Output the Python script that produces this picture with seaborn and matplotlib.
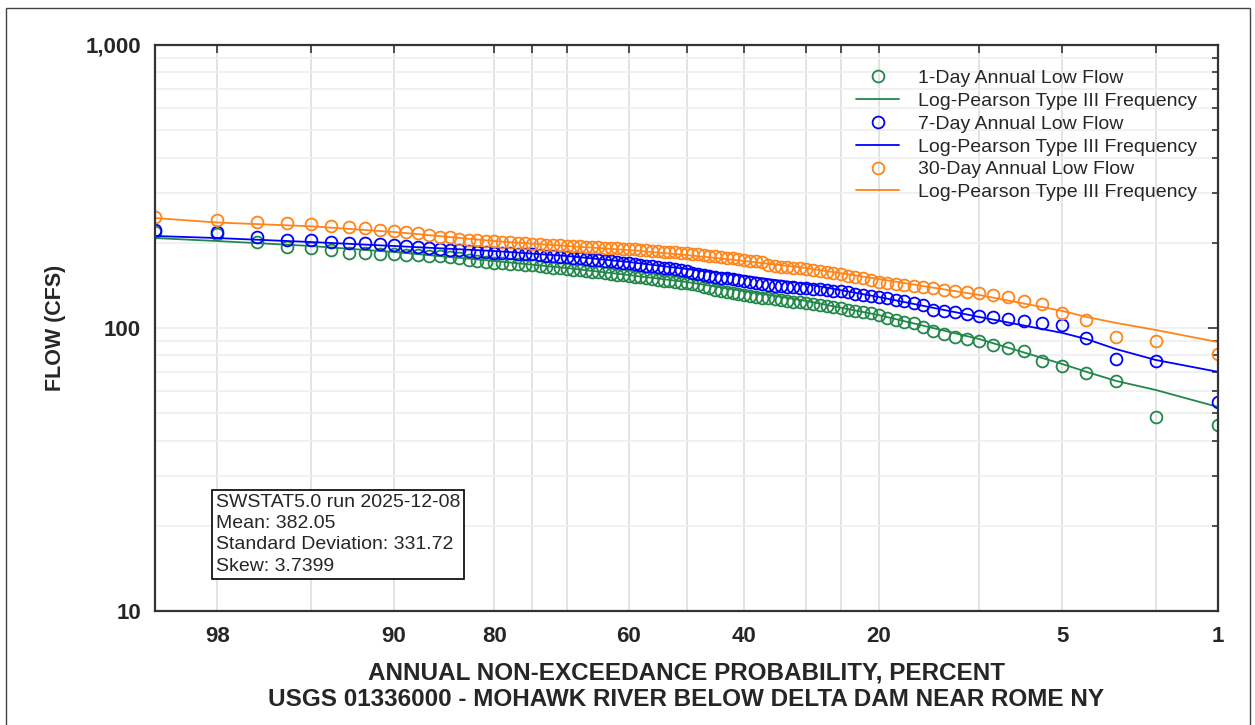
import numpy as np
import pandas as pd
import seaborn as sns
import matplotlib.pyplot as plt
from matplotlib.patches import Rectangle
from matplotlib.ticker import FixedLocator, FuncFormatter, NullFormatter
from statistics import NormalDist

# Annual non-exceedance probability (percent) of each ranked year, n = 99
nonexc_pct = list(range(1, 100))

flow_1day = [45.4, 48.5, 65.0, 69.3, 73.4, 76.4, 82.9, 85.0, 87.1, 89.9,
             91.4, 92.9, 95.2, 97.6, 100.8, 104.2, 105.0, 106.7, 108.5, 111.1,
             112.9, 113.9, 114.9, 115.8, 117.7, 118.7, 119.6, 120.6, 121.6, 122.6,
             123.6, 123.6, 124.6, 125.6, 126.6, 127.6, 127.6, 128.7, 129.7, 130.8,
             131.9, 132.9, 134.0, 135.1, 136.2, 138.4, 139.6, 141.9, 143.0, 144.2,
             144.2, 145.4, 146.6, 146.6, 147.8, 149.0, 150.2, 151.4, 151.4, 152.7,
             153.9, 153.9, 155.1, 156.4, 157.7, 157.7, 159.0, 160.3, 160.3, 161.6,
             162.9, 162.9, 164.3, 165.6, 167.0, 167.0, 168.3, 168.3, 169.7, 169.7,
             171.1, 172.5, 173.9, 176.8, 178.2, 179.7, 179.7, 181.1, 181.1, 182.6,
             182.6, 184.1, 184.1, 188.6, 191.7, 193.3, 201.3, 214.9, 218.4]

flow_7day = [54.8, 76.4, 77.7, 92.2, 102.5, 104.2, 105.8, 107.6, 109.4, 110.3,
             112.1, 113.9, 114.9, 115.8, 120.6, 122.6, 124.6, 125.6, 127.6, 128.7,
             129.7, 130.8, 131.9, 134.0, 135.1, 135.1, 136.2, 137.3, 137.3, 138.4,
             138.4, 139.6, 139.6, 140.7, 140.7, 141.9, 143.0, 144.2, 145.4, 146.6,
             147.8, 149.0, 150.2, 150.2, 151.4, 152.7, 153.9, 155.1, 156.4, 159.0,
             160.3, 161.6, 162.9, 162.9, 164.3, 165.6, 165.6, 167.0, 168.3, 169.7,
             169.7, 171.1, 172.5, 172.5, 173.9, 173.9, 175.3, 176.8, 176.8, 178.2,
             178.2, 179.7, 179.7, 181.1, 182.6, 182.6, 182.6, 184.1, 184.1, 184.1,
             185.6, 185.6, 187.1, 188.6, 188.6, 190.2, 191.7, 193.3, 194.9, 196.5,
             198.1, 199.7, 199.7, 201.3, 204.6, 204.6, 209.6, 218.4, 222.0]

flow_30day = [80.9, 89.9, 92.9, 106.7, 113.0, 121.6, 124.6, 128.7, 130.8, 132.9,
              134.0, 135.1, 136.2, 138.4, 139.6, 140.7, 141.9, 143.0, 144.2, 145.4,
              147.8, 150.2, 151.4, 152.7, 155.1, 156.4, 157.7, 159.0, 160.3, 161.6,
              162.9, 162.9, 164.3, 164.3, 165.6, 167.0, 171.1, 172.5, 172.5, 173.9,
              175.3, 176.8, 176.8, 178.2, 179.7, 179.7, 181.1, 182.6, 182.6, 184.1,
              184.1, 185.6, 185.6, 185.6, 187.1, 187.1, 188.6, 188.6, 190.2, 190.2,
              190.2, 191.7, 191.7, 191.7, 193.3, 193.3, 193.3, 194.9, 194.9, 194.9,
              196.5, 196.5, 196.5, 198.1, 198.1, 199.7, 199.7, 201.3, 201.3, 202.9,
              202.9, 204.6, 204.6, 206.3, 209.6, 209.6, 213.1, 216.6, 218.4, 220.2,
              222.0, 225.6, 227.5, 229.3, 233.1, 234.9, 236.9, 240.8, 246.7]

# Log-Pearson Type III fitted curves, read at these probabilities
lp3_pct = [1, 2, 3, 4, 5, 10, 20, 30, 40, 50, 60, 70, 80, 90, 95, 98, 99]
lp3_1day = [52.6, 60.4, 65.0, 70.0, 74.6, 91.4, 111.1, 124.6, 135.1, 145.4,
            153.9, 162.9, 172.5, 185.6, 194.9, 202.9, 207.9]
lp3_7day = [70.0, 77.1, 84.2, 91.4, 96.1, 109.4, 128.7, 143.0, 152.7, 161.6,
            171.1, 179.7, 187.1, 194.9, 201.3, 207.9, 211.4]
lp3_30day = [89.2, 98.4, 104.2, 109.4, 114.9, 130.8, 149.0, 162.9, 172.5, 181.1,
             188.6, 194.9, 202.9, 218.4, 228.8, 235.9, 244.7]

series = ["1-Day", "7-Day", "30-Day"]
colors = {"1-Day": "#22884a", "7-Day": "#0000ff", "30-Day": "#ff8419"}

obs = pd.DataFrame({
    "pct": nonexc_pct * 3,
    "flow": flow_1day + flow_7day + flow_30day,
    "series": [s for s in series for _ in nonexc_pct],
})
fit = pd.DataFrame({
    "pct": lp3_pct * 3,
    "flow": lp3_1day + lp3_7day + lp3_30day,
    "series": [s for s in series for _ in lp3_pct],
})

# normal probability scale
nd = NormalDist()
_fwd = np.vectorize(lambda v: nd.inv_cdf(min(max(v, 1e-4), 100 - 1e-4) / 100.0), otypes=[float])
_inv = np.vectorize(lambda v: nd.cdf(v) * 100.0, otypes=[float])

sns.set_theme(style="white")
plt.rcParams['font.family'] = ['Liberation Sans', 'DejaVu Sans']

fig = plt.figure(figsize=(12.55, 7.25), dpi=100)
ax = fig.add_axes([155 / 1255, 1 - 611 / 725, 1063 / 1255, 566 / 725])
ax.set_xscale('function', functions=(_fwd, _inv))
ax.set_yscale('log')

for s in series:
    c = colors[s]
    d = obs[obs.series == s]
    sns.lineplot(data=d, x="pct", y="flow", ax=ax, color=c, linestyle='', marker='o',
                 markersize=8.5, markerfacecolor='none', markeredgecolor=c,
                 markeredgewidth=1.3, label=f"{s} Annual Low Flow")
    f = fit[fit.series == s]
    sns.lineplot(data=f, x="pct", y="flow", ax=ax, color=c, linewidth=1.3,
                 label="Log-Pearson Type III Frequency")

ax.set_xlim(99, 1)
ax.set_ylim(10, 1000)

xt = [98, 95, 90, 80, 75, 70, 60, 50, 40, 30, 25, 20, 10, 5, 2, 1]
shown = {98, 90, 80, 60, 40, 20, 5, 1}
ax.xaxis.set_major_locator(FixedLocator(xt))
ax.xaxis.set_major_formatter(FuncFormatter(lambda v, pos: f"{v:.0f}" if round(v) in shown else ""))
ax.xaxis.set_minor_locator(FixedLocator([]))

ax.yaxis.set_major_locator(FixedLocator([10, 100, 1000]))
ax.yaxis.set_major_formatter(FuncFormatter(lambda v, pos: f"{v:,.0f}"))
ax.yaxis.set_minor_locator(FixedLocator([k * 10 ** e for e in (1, 2) for k in range(2, 10)]))
ax.yaxis.set_minor_formatter(NullFormatter())

ax.grid(axis='x', which='major', color='#dedede', linewidth=1.2)
ax.grid(axis='y', which='both', color='#efefef', linewidth=1.2)
ax.set_axisbelow(True)

ax.tick_params(which='both', direction='in', top=True, right=True, color='#333333')
ax.tick_params(axis='x', which='major', length=6, width=1.2, pad=10.5, labelsize=16)
ax.tick_params(axis='y', which='major', length=7, width=1.2, pad=10, labelsize=16)
ax.tick_params(axis='y', which='minor', length=4, width=1.2)
for lab in ax.get_xticklabels() + ax.get_yticklabels():
    lab.set_fontweight('bold')
for sp in ax.spines.values():
    sp.set_color('#333333')
    sp.set_linewidth(1.6)

ax.set_ylabel("FLOW (CFS)", fontsize=15.5, fontweight='bold')
ax.yaxis.set_label_coords(-0.084, 0.5)
ax.set_xlabel("ANNUAL NON-EXCEEDANCE PROBABILITY, PERCENT\n"
              "USGS 01336000 - MOHAWK RIVER BELOW DELTA DAM NEAR ROME NY",
              fontsize=17.5, fontweight='bold', linespacing=1.2)
ax.xaxis.set_label_coords(0.5, -0.0896)

ax.legend(loc='upper right', bbox_to_anchor=(0.9935, 0.981), frameon=False,
          fontsize=14, handlelength=2.2, handletextpad=1.0, labelspacing=0.27,
          borderpad=0.2)

ax.text(0.0575, 0.064, "SWSTAT5.0 run 2025-12-08\nMean: 382.05\n"
        "Standard Deviation: 331.72\nSkew: 3.7399",
        transform=ax.transAxes, fontsize=14, ha='left', va='bottom', linespacing=1.34,
        bbox=dict(boxstyle='square,pad=0.2', fc='white', ec='black', lw=1.2))

fig.add_artist(Rectangle((6 / 1255, -0.01), 1244 / 1255, (725 - 8) / 725 + 0.01,
                         transform=fig.transFigure, fill=False, ec='#444444', lw=1))

fig.savefig("out.png", dpi=100)
